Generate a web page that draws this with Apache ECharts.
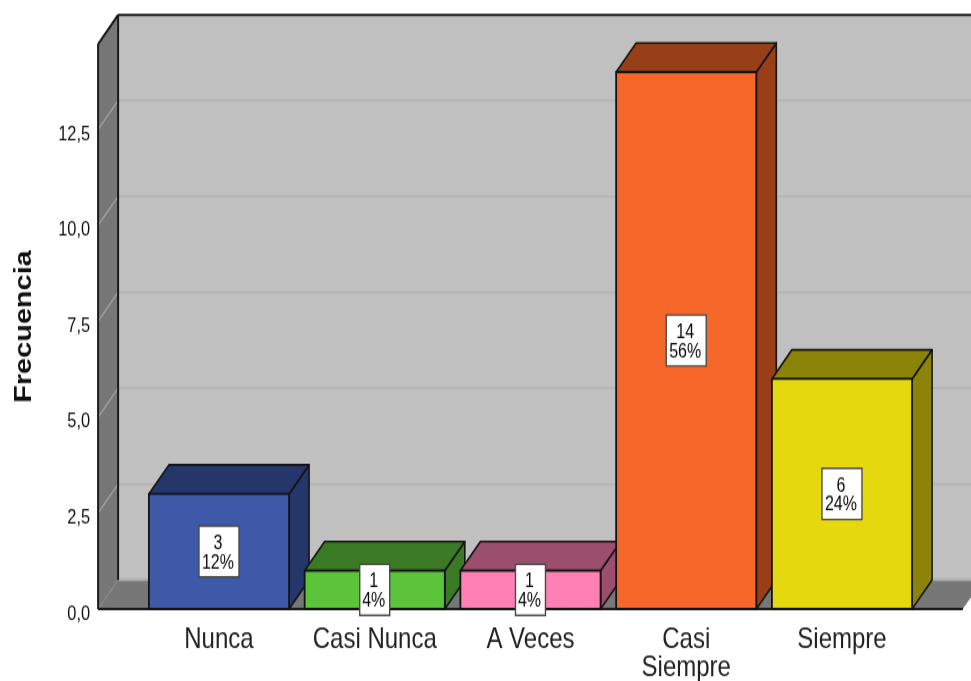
<!DOCTYPE html>
<html>
<head>
<meta charset="utf-8">
<style>
html,body{margin:0;padding:0;background:#fff;overflow:hidden;width:971px;height:681px}
#c{width:971px;height:558px;transform-origin:0 0;transform:scaleY(1.2204)}
</style>
<script src="https://cdn.jsdelivr.net/npm/echarts@6/dist/echarts.min.js"></script>
</head>
<body>
<div id="c"></div>
<script>
const categories = ['Nunca', 'Casi Nunca', 'A Veces', 'Casi\nSiempre', 'Siempre'];
const frecuencias = [3, 1, 1, 14, 6];
const porcentajes = [12, 4, 4, 56, 24];
const coloresFrente = ['#3e59a8', '#5cc43a', '#ff80b4', '#f6682a', '#e5d80e'];
const coloresLado = ['#25366b', '#3b7a24', '#9c4e6e', '#983f18', '#8c8408'];
const yTicks = [2.5, 5, 7.5, 10, 12.5];
const yMax = 14.73;

// The reference picture is stretched vertically; the page applies the same stretch (1.2204).
const DX = 20, DY = -23.8, MARGIN = 43;
const FONT = '"Liberation Sans",Arial,sans-serif';
const chart = echarts.init(document.getElementById('c'), null, {devicePixelRatio: 1});

function poly(points, fill, stroke, lw) {
  return {type: 'polygon', shape: {points}, style: {fill, stroke: stroke || null, lineWidth: lw || 0, lineJoin: 'round'}};
}
function line(x1, y1, x2, y2, stroke, lw) {
  return {type: 'line', shape: {x1, y1, x2, y2}, style: {stroke, lineWidth: lw}};
}

function renderWalls(params, api) {
  const cs = params.coordSys;
  const L = cs.x - MARGIN, R = cs.x + cs.width + MARGIN;
  const y0 = api.coord([0, 0])[1], yT = api.coord([0, yMax])[1];
  const ink = '#1a1a1a', wall = '#c0c0c0', side = '#777777';
  const ch = [];
  ch.push(poly([[L + DX, yT + DY], [R + DX, yT + DY], [R + DX, y0 + DY], [L + DX, y0 + DY]], wall));
  ch.push(poly([[L, yT], [L + DX, yT + DY], [L + DX, y0 + DY], [L, y0]], side));
  ch.push(poly([[L, y0], [R, y0], [R + DX, y0 + DY], [L + DX, y0 + DY]], side));
  yTicks.forEach(v => {
    const y = api.coord([0, v])[1];
    ch.push(line(L + DX, y + DY, R + DX, y + DY, '#b6b6b6', 2));
    ch.push(line(L, y, L + DX, y + DY, '#a6a6a6', 1.2));
  });
  ch.push(line(L, y0, L + DX, y0 + DY, '#8f8f8f', 1));
  ch.push(line(L + DX, y0 + DY, R + DX, y0 + DY, '#a8a8a8', 2));
  ch.push(line(L, y0, L, yT, ink, 2));
  ch.push(line(L, yT, L + DX, yT + DY, ink, 2));
  ch.push(line(L + DX, yT + DY, L + DX, y0 + DY, ink, 2));
  ch.push(line(L + DX, yT + DY, R + DX, yT + DY, ink, 2));
  ch.push(line(L, y0, R, y0, ink, 2));
  return {type: 'group', children: ch};
}

function renderBar(params, api) {
  const i = api.value(0), v = api.value(1);
  const c0 = api.coord([i, 0]), c1 = api.coord([i, v]);
  const w = api.size([1, 0])[0] * 0.9;
  const l = c0[0] - w / 2, r = c0[0] + w / 2, t = c1[1], b = c0[1];
  const ink = '#141414';
  return {type: 'group', children: [
    poly([[r, t], [r + DX, t + DY], [r + DX, b + DY], [r, b]], coloresLado[i], ink, 1.6),
    poly([[l, t], [l + DX, t + DY], [r + DX, t + DY], [r, t]], coloresLado[i], ink, 1.6),
    poly([[l, t], [r, t], [r, b], [l, b]], coloresFrente[i], ink, 1.8)
  ]};
}

function renderLabel(params, api) {
  const i = api.value(0), v = api.value(1);
  const c = api.coord([i, v / 2]);
  const boxW = porcentajes[i] >= 10 ? 40 : 30;
  return {type: 'group', children: [
    {type: 'rect', shape: {x: c[0] - boxW / 2, y: c[1] - 20.9, width: boxW, height: 41.8},
     style: {fill: '#ffffff', stroke: '#4a4a4a', lineWidth: 1.4}},
    {type: 'text', style: {x: c[0] - 1, y: c[1] + 1.5, text: v + '\n' + porcentajes[i] + '%', align: 'center', verticalAlign: 'middle',
      font: '16px ' + FONT, fill: '#0a0a0a', lineHeight: 15.5}}
  ]};
}

const barData = frecuencias.map((v, i) => [i, v]);

chart.setOption({
  animation: false,
  backgroundColor: '#ffffff',
  grid: {left: 141.1, width: 778.75, top: 36.05, height: 462.95, containLabel: false, outerBoundsMode: 'none'},
  xAxis: {
    type: 'category', data: categories, boundaryGap: true,
    axisLine: {show: false}, axisTick: {show: false}, splitLine: {show: false},
    axisLabel: {interval: 0, margin: 13, fontFamily: FONT, fontSize: 24, lineHeight: 23.8, color: '#222222'}
  },
  yAxis: {
    type: 'value', min: 0, max: yMax, interval: 2.5,
    offset: 43,
    axisLine: {show: false}, axisTick: {show: false}, splitLine: {show: false},
    name: 'Frecuencia', nameLocation: 'middle', nameGap: 62,
    nameTextStyle: {fontFamily: FONT, fontWeight: 'bold', fontSize: 23.7, color: '#111111'},
    axisLabel: {
      margin: 8, verticalAlign: 'top', lineHeight: 8, fontFamily: FONT, fontSize: 16.4, color: '#111111', showMaxLabel: false,
      formatter: v => (v > 12.5 ? '' : v.toFixed(1).replace('.', ','))
    }
  },
  series: [
    {type: 'custom', name: 'Paredes', data: [[0, 0]], renderItem: renderWalls, clip: false, silent: true, z: 1, encode: {x: 0, y: 1}},
    {type: 'custom', name: 'Frecuencia', data: barData, renderItem: renderBar, clip: false, silent: true, z: 2, encode: {x: 0, y: 1}},
    {type: 'custom', name: 'Etiquetas', data: barData, renderItem: renderLabel, clip: false, silent: true, z: 3, encode: {x: 0, y: 1}}
  ]
});
</script>
</body>
</html>
